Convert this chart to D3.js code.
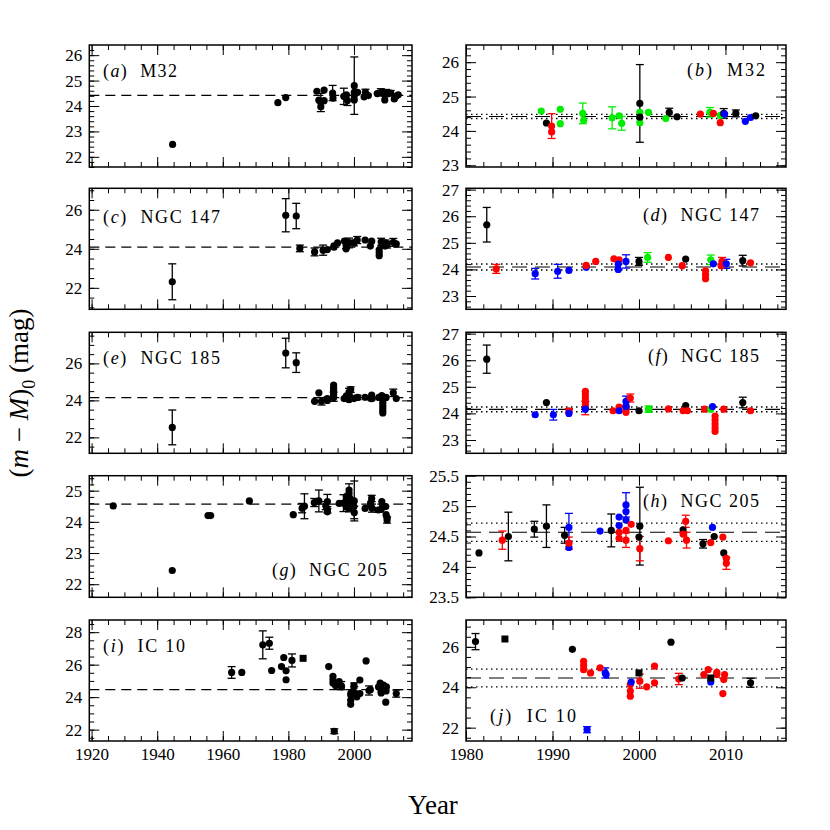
<!DOCTYPE html>
<html>
<head>
<meta charset="utf-8">
<script src="https://cdn.jsdelivr.net/npm/d3@7"></script>
<style>
  body { margin: 0; background: #fff; }
  text { font-family: "Liberation Serif", "DejaVu Serif", serif; }
</style>
</head>
<body>
<svg width="830" height="830"></svg>
<script>
// ---- data: distance moduli ----
// kind: k = black, r = red, g = green, b = blue, K = black square
const m32Year = [1988.7,1989.3,1989.9,1989.9,1990.9,1990.9,1993.5,1993.6,1996.9,1997.7,1998.0,2000.1,2000.1,2000.1,2000.1,2001.1,2003.1,2003.5,2004.4,2007.1,2008.2,2008.6,2009.4,2009.4,2009.8,2009.9,2011.2,2012.3,2012.9,2013.5];
const m32Mod  = [24.58,24.23,24.14,23.97,24.63,24.21,24.51,24.31,24.38,24.44,24.22,24.80,24.54,24.24,24.40,24.54,24.36,24.54,24.41,24.49,24.54,24.51,24.24,24.45,24.51,24.49,24.51,24.28,24.39,24.44];
const m32Err  = [0,0,0.36,0,0,0,0.3,0,0.32,0,0.2,1.13,0,0,0,0,0,0.12,0,0,0.14,0,0,0,0.14,0,0.1,0,0,0];
const m32Kind = "gkrrgggggggkggkggkkrgrrgkbkbbk";
const m32EarlyYear = [1944.7,1976.8,1979.2];
const m32EarlyMod  = [22.49,24.13,24.33];
const m32EarlyErr  = [0,0,0];

const n147Year = [1982.4,1983.5,1988.0,1990.6,1991.9,1993.9,1993.9,1995.0,1997.1,1997.7,1997.6,1997.6,1998.5,2000.0,2001.0,2003.4,2005.4,2005.0,2007.7,2007.7,2007.7,2008.3,2008.6,2009.6,2009.5,2010.1,2012.0,2012.9];
const n147Mod  = [25.68,24.02,23.84,23.93,23.96,24.08,24.15,24.30,24.40,24.36,24.20,24.00,24.30,24.30,24.45,24.45,24.39,24.14,23.95,23.80,23.65,24.36,24.21,24.30,24.14,24.21,24.33,24.25];
const n147Err  = [0.65,0.17,0.2,0.26,0,0,0,0,0,0,0.2,0,0.25,0.15,0.18,0,0,0,0,0,0,0.18,0,0.15,0,0.17,0.2,0];
const n147Kind = "krbbbbrrrrbbbkgrkrrrrgbrrbkr";
const n147EarlyYear = [1944.6,1979.2];
const n147EarlyMod  = [22.31,25.72];
const n147EarlyErr  = [0.92,0.85];

const n185Year = [1982.4,1988.0,1989.3,1990.1,1991.9,1991.9,1993.8,1993.8,1993.8,1993.8,1993.8,1993.8,1993.8,1997.0,1997.7,1997.7,1998.5,1998.5,1998.5,1998.5,1998.5,1999.0,2000.0,2001.1,2003.4,2005.4,2005.1,2005.6,2007.6,2008.3,2008.5,2008.8,2008.8,2008.8,2008.8,2008.8,2009.8,2012.0,2012.9];
const n185Mod  = [26.04,23.95,24.41,23.95,24.10,24.00,24.83,24.70,24.58,24.45,24.33,24.20,24.16,24.10,24.24,24.10,24.16,24.28,24.04,24.45,24.26,24.58,24.10,24.16,24.17,24.29,24.10,24.10,24.16,24.16,24.26,23.90,23.75,23.60,23.45,23.32,24.16,24.41,24.10];
const n185Err  = [0.53,0,0,0.2,0.08,0,0,0,0,0,0,0.25,0,0,0,0,0,0,0,0.2,0,0.15,0,0.12,0,0,0,0,0,0,0,0,0,0,0,0,0,0.2,0];
const n185Kind = "kbkbrbrrrrrrbrrbrrrbbrkgrkrrrgbrrrrrrkr";
const n185EarlyYear = [1944.6,1979.2];
const n185EarlyMod  = [22.54,26.56];
const n185EarlyErr  = [0.94,0.8];

const n205Year = [1981.5,1984.2,1984.9,1987.9,1989.3,1991.4,1991.9,1991.9,1991.9,1995.5,1996.8,1997.7,1997.7,1997.7,1997.7,1998.5,1998.5,1998.5,1998.5,1998.5,1999.1,2000.1,2000.0,2000.1,2003.4,2005.1,2005.1,2005.4,2005.5,2007.4,2008.3,2008.5,2008.7,2009.7,2009.8,2010.1,2010.1];
const n205Mod  = [24.23,24.44,24.50,24.62,24.67,24.52,24.65,24.32,24.39,24.59,24.60,24.82,24.68,24.57,24.47,25.02,24.91,24.77,24.60,24.44,24.70,24.67,24.49,24.30,24.43,24.61,24.54,24.75,24.44,24.38,24.40,24.65,24.50,24.49,24.23,24.14,24.06];
const n205Err  = [0,0.15,0.4,0.13,0.35,0.13,0.23,0,0.1,0,0.27,0,0,0,0,0.2,0,0,0,0.12,0,0.64,0,0.2,0,0,0,0.1,0.13,0.07,0,0,0,0,0,0,0.1];
const n205Kind = "krkkkkbbrbkbbrrbbbrrrkkrrkrrrkrbkrkrr";
const n205EarlyYear = [1926.6,1944.6,1955.5,1956.3,1968.1];
const n205EarlyMod  = [24.51,22.44,24.20,24.20,24.67];
const n205EarlyErr  = [0,0,0,0,0];

const ic10Year = [1981.1,1984.5,1992.3,1993.6,1993.6,1993.6,1994.0,1994.4,1995.5,1996.1,1996.2,1999.0,1999.0,1999.0,1999.1,2000.0,2000.1,2000.9,2001.8,2001.8,2003.7,2004.6,2005.0,2007.5,2008.0,2008.3,2008.3,2009.0,2009.0,2009.8,2009.9,2009.7,2012.9];
const ic10Mod  = [26.26,26.39,25.88,25.28,25.07,24.87,21.90,24.71,24.96,24.71,24.63,24.14,23.81,23.56,24.26,24.71,24.30,24.02,25.05,24.22,26.23,24.41,24.46,24.63,24.87,24.46,24.26,24.74,24.63,24.38,24.63,23.69,24.22];
const ic10Err  = [0.4,0,0,0,0,0,0.15,0,0,0.25,0,0,0,0,0,0,0.35,0,0,0,0,0.28,0,0,0,0,0,0,0,0,0,0,0.22];
const ic10Kind = "kKkrrrbrrbbrrrbKrrrrkrkrrKbrrrrrk";
const ic10EarlyYear = [1962.7,1965.8,1972.2,1974.2,1974.9,1977.9,1978.6,1979.3,1979.3];
const ic10EarlyMod  = [25.52,25.52,27.22,27.32,25.64,25.88,26.44,25.62,25.07];
const ic10EarlyErr  = [0.36,0,0.86,0.37,0,0,0,0,0];

const galaxyNames  = ["M32", "NGC 147", "NGC 185", "NGC 205", "IC 10"];
const galaxyMean   = [24.42, 24.09, 24.15, 24.57, 24.46];
const galaxySpread = [0.06, 0.115, 0.09, 0.15, 0.44];

const leftYearTicks  = [1920, 1940, 1960, 1980, 2000];
const rightYearTicks = [1980, 1990, 2000, 2010];

// ---- layout ----
const svg = d3.select("svg");
const colPix = [[89.3, 412], [466, 786]];
const rowPix = [[45, 167], [188.3, 309.3], [332.3, 453.3], [475.7, 597.3], [620, 741]];
const colYears = [[1919.3, 2017.7], [1980, 2017]];
const colMinor = [d3.range(1920, 2018, 5), d3.range(1980, 2017, 2)];
const colMajor = [leftYearTicks, rightYearTicks];

// y set-up per panel: [domain, labelled ticks, minor step]
const leftY = [
  [[21.6, 26.4], [22, 23, 24, 25, 26], 0.2],
  [[20.9, 27.1], [22, 24, 26], 0.5],
  [[21.14, 27.68], [22, 24, 26], 0.5],
  [[21.58, 25.48], [22, 23, 24, 25], 0.2],
  [[21.3, 28.75], [22, 24, 26, 28], 0.5]
];
const rightY = [
  [[22.95, 26.5], [23, 24, 25, 26], 0.2],
  [[22.5, 27.05], [23, 24, 25, 26, 27], 0.2],
  [[22.5, 27.05], [23, 24, 25, 26, 27], 0.2],
  [[23.5, 25.5], [23.5, 24, 24.5, 25, 25.5], 0.1],
  [[21.34, 27.33], [22, 24, 26], 0.5]
];
// panel label: [x, y, anchor, width]
const leftLab  = [[103, 77, "start", 74], [103, 223, "start", 117], [103, 364, "start", 117], [272, 576, "start", 115], [103, 652, "start", 82]];
const rightLab = [[765, 76, "end", 78], [759, 221, "end", 116], [759, 362, "end", 111], [759, 507, "end", 116], [490, 722, "start", 86]];
const letters = "abcdefghij";

const colorOf = { k: "#000", K: "#000", r: "#ff0000", g: "#00ee00", b: "#0000ff" };

const sets = [
  [m32Year, m32Mod, m32Err, m32Kind, m32EarlyYear, m32EarlyMod, m32EarlyErr],
  [n147Year, n147Mod, n147Err, n147Kind, n147EarlyYear, n147EarlyMod, n147EarlyErr],
  [n185Year, n185Mod, n185Err, n185Kind, n185EarlyYear, n185EarlyMod, n185EarlyErr],
  [n205Year, n205Mod, n205Err, n205Kind, n205EarlyYear, n205EarlyMod, n205EarlyErr],
  [ic10Year, ic10Mod, ic10Err, ic10Kind, ic10EarlyYear, ic10EarlyMod, ic10EarlyErr]
];

function drawPanel(col, row, ySet, pts, label, showX) {
  const [x0, x1] = colPix[col];
  const [y0, y1] = rowPix[row];
  const x = d3.scaleLinear().domain(colYears[col]).range([x0, x1]);
  const y = d3.scaleLinear().domain(ySet[0]).range([y1, y0]);
  const g = svg.append("g");

  const yMinor = d3.range(Math.ceil(ySet[0][0] / ySet[2]) * ySet[2], ySet[0][1], ySet[2]);
  const fmt = d => String(+d.toFixed(2));

  function axis(fn, scale, vals, size, f, tr) {
    g.append("g").attr("transform", tr)
      .call(fn(scale).tickValues(vals).tickSize(size).tickPadding(7).tickFormat(f))
      .call(s => s.select(".domain").remove())
      .call(s => s.selectAll("line").attr("stroke", "#000").attr("stroke-width", 1))
      .call(s => s.selectAll("text").attr("font-size", 17).attr("fill", "#000")
        .style("font-family", '"Liberation Serif", serif'));
  }
  // ticks on all four sides, pointing inwards
  axis(d3.axisBottom, x, colMajor[col], -10, showX ? d3.format("d") : "", `translate(0,${y1})`);
  axis(d3.axisBottom, x, colMinor[col], -5, "", `translate(0,${y1})`);
  axis(d3.axisTop, x, colMajor[col], -10, "", `translate(0,${y0})`);
  axis(d3.axisTop, x, colMinor[col], -5, "", `translate(0,${y0})`);
  axis(d3.axisLeft, y, ySet[1], -10, fmt, `translate(${x0},0)`);
  axis(d3.axisLeft, y, yMinor, -5, "", `translate(${x0},0)`);
  axis(d3.axisRight, y, ySet[1], -10, "", `translate(${x1},0)`);
  axis(d3.axisRight, y, yMinor, -5, "", `translate(${x1},0)`);

  // mean and spread
  const m = galaxyMean[row], s = galaxySpread[row];
  g.append("line").attr("x1", x0).attr("x2", x1).attr("y1", y(m)).attr("y2", y(m))
    .attr("stroke", "#000").attr("stroke-width", 1.2)
    .attr("stroke-dasharray", col === 0 ? "10,6" : "15,8");
  if (col === 1) {
    [m - s, m + s].forEach(v => {
      g.append("line").attr("x1", x0).attr("x2", x1).attr("y1", y(v)).attr("y2", y(v))
        .attr("stroke", "#000").attr("stroke-width", 1.4).attr("stroke-dasharray", "1.5,3.5");
    });
  }

  // error bars
  pts.filter(p => p.e > 0).forEach(p => {
    const c = colorOf[p.k];
    const cx = x(p.yr), ya = y(p.v + p.e), yb = y(p.v - p.e);
    g.append("line").attr("x1", cx).attr("x2", cx).attr("y1", ya).attr("y2", yb).attr("stroke", c).attr("stroke-width", 1.3);
    [ya, yb].forEach(yy => g.append("line").attr("x1", cx - 4).attr("x2", cx + 4).attr("y1", yy).attr("y2", yy)
      .attr("stroke", c).attr("stroke-width", 1.3));
  });
  // points
  g.selectAll("circle").data(pts.filter(p => p.k !== "K")).join("circle")
    .attr("cx", p => x(p.yr)).attr("cy", p => y(p.v)).attr("r", 3.6)
    .attr("fill", p => colorOf[p.k]);
  g.selectAll("rect.sq").data(pts.filter(p => p.k === "K")).join("rect").attr("class", "sq")
    .attr("x", p => x(p.yr) - 3.5).attr("y", p => y(p.v) - 3.5).attr("width", 7).attr("height", 7)
    .attr("fill", "#000");

  // frame
  g.append("rect").attr("x", x0).attr("y", y0).attr("width", x1 - x0).attr("height", y1 - y0)
    .attr("fill", "none").attr("stroke", "#000").attr("stroke-width", 1.5);

  // panel label
  const t = g.append("text").attr("x", label[0]).attr("y", label[1]).attr("text-anchor", label[2])
    .attr("font-size", 18).style("white-space", "pre")
    .attr("textLength", label[3]).attr("lengthAdjust", "spacing");
  t.append("tspan").text("(");
  t.append("tspan").attr("font-style", "italic").text(letters[row * 2 + col]);
  t.append("tspan").text(")  " + galaxyNames[row]);
}

sets.forEach((d, row) => {
  const all = d[0].map((yr, i) => ({ yr, v: d[1][i], e: d[2][i], k: d[3][i] }));
  const early = d[4].map((yr, i) => ({ yr, v: d[5][i], e: d[6][i], k: "k" }));
  const leftPts = early.concat(all.map(p => ({ ...p, k: p.k === "K" ? "K" : "k" })));
  drawPanel(0, row, leftY[row], leftPts, leftLab[row], row === 4);
  drawPanel(1, row, rightY[row], all, rightLab[row], row === 4);
});

// axis titles
svg.append("text").attr("x", 433).attr("y", 814).attr("text-anchor", "middle")
  .attr("font-size", 27).text("Year");
const yl = svg.append("text").attr("transform", "translate(28,393) rotate(-90)")
  .attr("text-anchor", "middle").attr("font-size", 27).style("white-space", "pre");
yl.append("tspan").text("(");
yl.append("tspan").attr("font-style", "italic").text("m");
yl.append("tspan").text(" − ");
yl.append("tspan").attr("font-style", "italic").text("M");
yl.append("tspan").text(")");
yl.append("tspan").attr("font-size", 18).attr("dy", 7).text("0");
yl.append("tspan").attr("dy", -7).text(" (mag)");
</script>
</body>
</html>
